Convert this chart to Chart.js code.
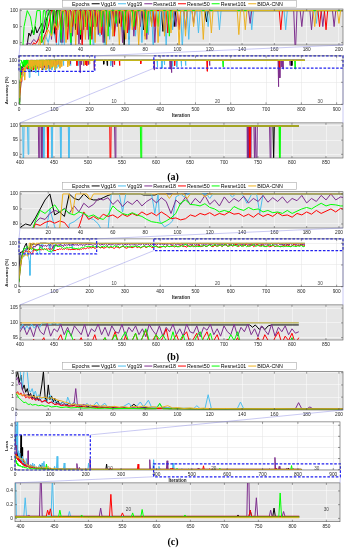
<!DOCTYPE html>
<html><head><meta charset="utf-8">
<script src="https://cdn.jsdelivr.net/npm/chart.js"></script>
<style>
html,body{margin:0;padding:0;background:#fff}
body{width:356px;height:550px;position:relative;overflow:hidden}
canvas{position:absolute;left:0}
.cap{position:absolute;left:0;width:346px;text-align:center;font:bold 10px "Liberation Serif","Times New Roman",serif;line-height:12px;color:#000}
</style></head><body>
<div id="wrap"></div>
<div class="cap" style="top:171px">(a)</div>
<div class="cap" style="top:351px">(b)</div>
<div class="cap" style="top:536px">(c)</div>
<canvas id="ov" width="356" height="550" style="top:0;pointer-events:none;z-index:5"></canvas>
<script>
const seriesNames=['Vgg16','Vgg19','Resnet18','Resnet50','Resnet101','BIDA-CNN'];
const seriesColors=['#000000','#4DBEEE','#7E2F8E','#FF0000','#00FF00','#EDB120'];
const legendNames=['Epochs'].concat(seriesNames);
const legendColors=['#FFFFFF'].concat(seriesColors);
const epochLabels=['10','20','30'];
const epochIters=[262,555,846];
const xTicksTop=[20,40,60,80,100,120,140,160,180,200];
const xTicksTopC=[0,20,40,60,80,100,120,140,160,180,200];
const xTicksMain=[0,100,200,300,400,500,600,700,800,900];
const xTicksZoom=[400,450,500,550,600,650,700,750,800,850];
const lastIter=810;

// ---------- (a) accuracy: start of training + dips below 100 % ----------
const aVgg16Ramp=[[0,6],[2,30],[4,55],[6,72],[8,86],[9,84],[10,88],[11,85],[12,90],[13,86],[14,88],[16,92],[17,86],[19,95],[21,100]];
const aVgg16Dips=[[24,85],[28,80],[31,90],[34,75],[37,88],[40,82],[43,90],[46,84],[49,92],[52,86],[55,80],[58,90],[61,86],[64,92],[67,78],[70,82],[74,90],[79,88],[84,92],[91,87],[98,90],[118,93],[240,91],[250,88],[736,85],[773,88]];
const aVgg19Ramp=[[0,4],[2,18],[4,35],[6,50],[8,62],[10,70],[12,66],[14,78],[16,74],[18,85],[20,80],[22,90],[24,84],[26,75],[28,95],[29,61],[31,100]];
const aVgg19Dips=[[34,78],[38,85],[41,80],[45,88],[48,72],[52,84],[55,65],[58,82],[62,90],[66,86],[70,78],[74,84],[78,80],[82,85],[85,75],[89,84],[93,78],[97,88],[103,76],[107,82],[113,86],[119,90],[126,88],[146,88],[167,88],[186,92],[260,88],[392,85],[405,82],[412,90],[435,86],[447,85],[460,86],[472,88]];
const aResnet18Ramp=[[0,10],[2,30],[4,55],[6,75],[7,80],[9,79],[11,82],[13,80],[15,86],[17,90],[19,100]];
const aResnet18Dips=[[22,82],[25,88],[29,80],[32,90],[35,84],[39,79],[42,88],[45,82],[48,90],[51,85],[54,80],[57,88],[60,84],[63,90],[66,80],[70,88],[73,84],[77,90],[81,82],[86,80],[92,86],[99,90],[105,88],[110,92],[145,92],[173,72],[177,90],[183,88],[190,90],[197,90],[213,78],[265,85],[383,78],[428,80],[432,72],[540,88],[735,40],[739,60],[745,85],[748,80],[768,88]];
const aResnet50Ramp=[[0,4],[2,18],[4,32],[6,52],[8,68],[10,78],[11,80],[12,79],[14,82],[16,80],[18,85],[20,90],[22,100]];
const aResnet50Dips=[[25,80],[28,88],[32,82],[35,90],[38,85],[41,78],[44,88],[47,82],[50,90],[53,85],[57,92],[61,84],[65,90],[69,86],[74,88],[80,84],[86,90],[94,86],[101,88],[164,88],[188,90],[192,88],[270,90],[285,88],[345,92],[441,88],[533,75],[738,82]];
const aResnet101Ramp=[[0,0],[2,30],[3,55],[4,72],[5,90],[6,95],[7,100],[9,96],[10,90],[11,85],[12,92],[13,100]];
const aResnet101Dips=[[16,80],[19,88],[22,85],[25,90],[28,82],[31,88],[34,80],[37,92],[40,85],[43,90],[46,78],[49,88],[53,90],[57,84],[62,92],[67,88],[73,90],[81,86],[88,90],[95,84],[578,85],[782,80]];
const aBidaRamp=[[0,15],[2,38],[4,58],[5,52],[7,66],[9,62],[11,78],[13,72],[15,84],[16,55],[18,82],[20,88],[22,84],[24,92],[26,88],[28,100]];
const aBidaDips=[[31,80],[34,86],[37,78],[40,88],[43,82],[46,90],[49,80],[52,86],[56,78],[60,84],[64,78],[68,82],[72,88],[76,78],[80,82],[84,90],[88,80],[92,84],[96,86],[101,78],[105,84],[110,90],[116,82],[121,86],[138,85],[142,88],[185,90],[200,92]];

// ---------- (b) accuracy ----------
const bVgg16=[[0,20],[3,78],[6,80],[9,79],[12,84],[15,90],[18,96],[21,100],[24,86],[27,88],[30,85],[33,100],[36,97],[39,96],[42,100],[45,97],[48,96],[51,96],[54,97.5],[57,99],[60,100],[77,100],[79,99.3],[86,99.3],[88,100],[205,100],[215,99.3],[738,99.3],[742,98.5],[746,99.3],[752,97.8],[756,98.8],[760,97.7],[765,99],[770,99.3],[810,99.3]];
const bVgg19=[[0,12],[3,40],[6,62],[9,70],[12,68],[15,74],[18,72],[21,90],[24,78],[27,70],[29,60],[31,26],[33,80],[36,81.5],[39,84],[42,87],[45,84],[48,83],[51,80],[54,74],[57,76],[59,100],[64,100],[66,88],[68,100],[84,100],[86,87],[88,100],[89,82],[92,78],[95,80],[97,82],[99,98],[102,100],[104,98],[106,100],[118,100],[120,97],[122,100],[132,100],[134,98],[136,100],[140,100],[143,93.8],[146,100],[149,100],[151,87],[153,100],[398,100],[401,98],[404,99.6],[407,97.6],[410,99],[413,98],[417,99.6],[421,98.2],[425,99.5],[429,98.5],[433,100],[445,99.5],[450,100],[455,99.5],[462,100],[810,100]];
const bResnet18Early=[15,50,68,74,81,84,83,87,89,88,90.4,87,92,88,93.8,91,93,97,96,97.5,93,96,91.6,95,93,96,92,95,97,94,97.5,95,87,96,93,98,92.7,97,94,99,93,96,92,98,94,97,95,98.5,94,97,95,99,94.5,97.5,95,98,94,97,95.5,99,94,97,95,99,96,100,96,98];
const bResnet18Late=[97,95,98.5,96,99,95.5,97.5,96,99.5,94.5,98,96,97,99,95,98,96.5,99.5,95,97.5,96,98.5,95.5,99,96,97.5,95,98.5,96,99.5,95.5,97,98.5,95,99,96.5,97.5,95.5,99,97,
99,96,98.5,95.3,99.5,97,96,99.8,95.5,98,97,99.5,96,98.5,95.5,99,97.5,96,99.5,95.3,98,97,99.6,96,98.5,95.5,99,97,96.5,99.5,95.5,98.5,97,99,96,98,95.3,99.5,97.5,96,99,95.5,98.5,97,99.5,96,98,95.5,99.6,97,96.5,99,95.3,98.5,97.5,99.5,96,98,95.5,99,97,96,99.5,95.5,98.5,97,99.6,96,98,95.3,99,97.5,96,99.5,95.5,98.5,97,99,96,98,96.5,97];
const bResnet50Early=[12,35,55,72,80,79,81,82,80.5,82,81,77,75,78,88,83,85,83,86.5,85,86,84,86.5,85,87,85.5,88,86,87.5,85.5,88,86,83.5,84,82.7,83.5,86,85,87,86,87.5,85.5,87,86,88,86.5,87,85,86.5,84.5,87,85,86.5,85,87.5,85.5,86,84.5,87,86,88,86.5,89,87,88.5,90,88,90.4];
const bResnet50Late=[89,91,88,90,92,89,91,88.5,90,92.5,89,91,90,88,92,90.5,89,91.5,93,90,88.5,91,92,89.5,91,93,90,92,89,91.5,93,90,92,94,91,89.5,92,93.5,91,90,
92,93,91,94.5,92,93,95,91.5,93,92,94,96,92.5,93,91,94.5,93,95,92,94,93,96,92,93.5,95,92,94,97,93,92,95.5,93,94,96.5,92,95,97.5,93,94,96,93,95,98,92.5,94,96,93,95.5,97,93,94.5,96.5,92,95,97,93.5,94,96,92.5,93,94.5,92,93,95,92,93.5,94,92,93,95,93,96,94,92.5,95,97,93,95.5,94,96.5,93,95];
const bResnet101Early=[10,40,60,72,82,89,87,90,92.7,88,90,87,86,88,87,85,86,84,83,86,92,89,87,86,87.5,86,85,83,81.5,81,80.4,82,84,87,94,96,93,92.7,92,93.5,91,90,88,89,88,91.6,90,89,91,89.5,90,88,89,87.5,88,87,89,87,88.5,90,91,90,92,93.8,92,93,92.7,92];
const bResnet101Late=[92,93.5,91,94,92.5,90,93,91.5,94,92,90.5,93,91,94.5,92,93.5,90,92,94,91,93,92,90.5,93.5,92,94,91.5,93,90,92.5,94,91,93,92,94.5,91.5,93,92,90.5,93,
92,93,91.5,94,92,93,92.5,94,93,92,92,94,93,97.5,96,93,92,93.5,94,92,93.5,92,94,93,95,92.5,94,96,93,95,97,93.5,94,96.5,93,95,98,94,93,96,94.5,96,94,93,97,92.5,94,96,92,94,93,95.5,97,93,94,96.5,92.5,94,93,92,93.5,96,94,97,92.5,94,93,92,93.5,92,94,92.5,93,92,94,93,92.5,94,93,95,92,93];
const bBida=[[0,18],[3,45],[6,60],[9,66],[12,72],[15,70],[18,75],[21,74],[24,70],[27,76],[29,100],[33,100],[35,87],[37,100],[44,100],[46,96],[48,100],[93,100],[95,97],[97,100],[104,100],[106,97],[108,100],[115,100],[117,98],[119,100],[810,100]];

// ---------- (c) loss ----------
const cVgg16=[[0,2.6],[1,3.1],[2,2.2],[3,2.8],[4,1.6],[5,2.0],[6,1.4],[7,1.7],[8,1.1],[9,1.3],[10,0.9],[11,1.2],[12,0.8],[13,1.0],[14,0.7],[15,1.2],[16,2.0],[17,3.1],[18,1.0],[19,0.6],[20,2.0],[21,0.8],[22,1.1],[23,0.6],[24,0.9],[25,0.5],[26,0.7],[27,0.4],[29,0.6],[31,0.35],[33,0.5],[35,0.3],[37,0.4],[40,0.22],[43,0.3],[46,0.18],[50,0.25],[54,0.15],[58,0.2],[62,0.12],[66,0.18],[70,0.1],[73,0.42],[76,0.1],[80,0.15],[85,0.08],[90,0.12],[95,0.06],[100,0.08],[110,0.05],[120,0.04],[150,0.03],[200,0.02],[257,0.02],[259,0.5],[261,0.02],[718,0.02],[720,0.05],[722,0.02],[736,0.02],[738,0.12],[740,0.02],[771,0.02],[773,0.15],[775,0.02],[810,0.02]];
const cVgg19=[[0,4.5],[1,3.4],[2,4.2],[3,2.5],[4,1.8],[5,3.2],[6,4.4],[7,3.0],[8,1.6],[9,1.4],[10,1.7],[11,1.2],[12,1.5],[13,1.0],[14,1.2],[15,0.8],[17,1.0],[19,0.6],[21,1.2],[23,0.5],[25,0.7],[27,0.4],[29,0.6],[31,0.4],[32,1.0],[34,0.35],[36,0.6],[38,0.3],[40,0.4],[42,0.25],[44,0.5],[46,0.2],[48,0.3],[50,0.6],[52,0.2],[55,0.5],[57,0.15],[60,0.25],[63,0.12],[66,0.2],[70,0.5],[72,0.15],[75,0.3],[77,0.6],[79,0.2],[82,0.75],[84,0.15],[87,0.2],[89,0.4],[91,0.1],[95,0.15],[100,0.08],[105,0.1],[110,0.06],[112,0.3],[114,0.06],[117,0.05],[119,1.2],[121,0.05],[125,0.06],[130,0.04],[137,0.05],[139,0.6],[141,0.05],[150,0.04],[170,0.03],[200,0.03],[206,0.03],[208,0.6],[210,0.03],[390,0.03],[392,0.9],[394,0.03],[405,0.03],[407,0.3],[409,0.03],[445,0.03],[447,0.6],[449,0.03],[470,0.02],[472,0.1],[474,0.02],[810,0.02]];
const cResnet18=[[0,2.4],[1,2.6],[2,2.0],[3,2.2],[4,1.6],[5,1.3],[6,1.1],[7,1.25],[8,1.0],[9,1.2],[10,0.9],[11,1.0],[12,0.75],[13,0.9],[14,0.7],[15,0.85],[16,0.6],[18,0.7],[20,0.5],[22,0.6],[24,0.4],[26,0.5],[28,0.35],[30,0.45],[32,0.3],[34,0.35],[36,0.5],[37,1.7],[38,0.4],[40,0.3],[42,0.4],[44,0.25],[46,0.35],[48,0.2],[52,0.25],[56,0.15],[60,0.2],[65,0.12],[70,0.15],[75,0.1],[80,0.12],[85,0.08],[90,0.1],[100,0.06],[110,0.05],[130,0.04],[150,0.04],[173,0.04],[175,0.55],[177,0.04],[180,0.03],[182,0.2],[184,0.03],[210,0.03],[212,0.95],[214,0.03],[379,0.03],[381,0.9],[383,0.03],[410,0.03],[412,0.05],[414,0.03],[428,0.03],[430,0.8],[432,0.03],[516,0.03],[518,0.15],[520,0.03],[733,0.03],[735,1.1],[737,0.03],[745,0.03],[747,0.3],[749,0.03],[766,0.03],[768,0.12],[770,0.03],[785,0.03],[787,0.1],[789,0.03],[810,0.03]];
const cResnet50=[[0,1.3],[1,1.45],[2,1.2],[3,1.35],[4,1.1],[5,1.2],[6,0.95],[7,1.05],[8,0.9],[9,1.0],[10,0.8],[11,0.9],[12,0.75],[14,0.85],[16,0.6],[18,0.75],[20,0.5],[22,0.6],[24,0.4],[26,0.45],[28,0.3],[30,0.35],[33,0.25],[36,0.3],[39,0.2],[42,0.22],[45,0.15],[48,0.2],[52,0.12],[56,0.15],[60,0.1],[65,0.12],[70,0.08],[75,0.1],[80,0.06],[90,0.07],[100,0.05],[120,0.04],[150,0.03],[200,0.03],[268,0.03],[270,0.15],[272,0.03],[346,0.03],[348,0.5],[350,0.03],[438,0.03],[440,0.12],[442,0.05],[444,0.14],[446,0.03],[531,0.03],[533,0.35],[535,0.03],[548,0.03],[550,0.08],[552,0.03],[736,0.03],[738,0.12],[740,0.03],[810,0.03]];
const cResnet101=[[0,1.3],[1,1.1],[2,0.9],[3,0.8],[4,0.65],[5,0.55],[6,0.6],[7,0.45],[8,0.4],[9,0.45],[10,0.35],[12,0.4],[14,0.3],[16,0.35],[18,0.25],[20,0.3],[22,0.2],[25,0.25],[28,0.15],[31,0.2],[34,0.12],[38,0.15],[42,0.1],[46,0.12],[50,0.08],[55,0.1],[60,0.06],[70,0.08],[80,0.05],[87,0.05],[89,0.5],[91,0.05],[100,0.04],[120,0.03],[150,0.03],[200,0.02],[456,0.02],[458,0.12],[460,0.02],[488,0.02],[490,0.05],[492,0.02],[563,0.02],[565,0.08],[567,0.02],[577,0.02],[579,0.13],[581,0.02],[640,0.02],[642,0.05],[644,0.02],[780,0.02],[782,0.37],[784,0.02],[810,0.02]];
const cBida=[[0,1.3],[2,1.25],[4,1.15],[6,1.2],[8,1.05],[10,1.1],[12,1.0],[14,1.05],[16,0.95],[18,1.0],[20,0.9],[22,0.95],[24,0.85],[26,0.75],[28,0.7],[30,0.6],[32,0.55],[34,0.4],[36,0.45],[38,0.35],[40,0.4],[42,0.3],[44,0.38],[46,0.28],[48,0.33],[50,0.3],[52,0.25],[55,0.3],[58,0.2],[61,0.25],[64,0.18],[67,0.22],[70,0.15],[73,0.25],[76,0.2],[79,0.28],[82,0.18],[85,0.22],[88,0.15],[91,0.2],[94,0.3],[97,0.12],[100,0.15],[104,0.08],[108,0.12],[112,0.06],[116,0.1],[120,0.05],[130,0.06],[140,0.04],[160,0.05],[180,0.03],[200,0.04],[250,0.03],[300,0.03],[400,0.02],[500,0.01],[810,0.01]];

// ---------- builders ----------
function fromDips(ramp,dips,base,last){
  const pts=ramp.map(p=>({x:p[0],y:p[1]}));
  dips.forEach(d=>{pts.push({x:d[0]-1,y:base},{x:d[0],y:d[1]},{x:d[0]+1,y:base});});
  pts.push({x:last,y:base});
  return pts;
}
function fromPairs(a){return a.map(p=>({x:p[0],y:p[1]}));}
function fromSteps(early,e0,es,late,l0,ls){
  const o=[];early.forEach((v,i)=>o.push({x:e0+i*es,y:v}));late.forEach((v,i)=>o.push({x:l0+i*ls,y:v}));return o;
}
const seriesA=[fromDips(aVgg16Ramp,aVgg16Dips,100,lastIter),fromDips(aVgg19Ramp,aVgg19Dips,100,lastIter),fromDips(aResnet18Ramp,aResnet18Dips,100,lastIter),fromDips(aResnet50Ramp,aResnet50Dips,100,lastIter),fromDips(aResnet101Ramp,aResnet101Dips,100,lastIter),fromDips(aBidaRamp,aBidaDips,100,lastIter)];
const seriesB=[fromPairs(bVgg16),fromPairs(bVgg19),fromSteps(bResnet18Early,0,3,bResnet18Late,205,5),fromSteps(bResnet50Early,0,3,bResnet50Late,205,5),fromSteps(bResnet101Early,0,3,bResnet101Late,205,5),fromPairs(bBida)];
const seriesC=[fromPairs(cVgg16),fromPairs(cVgg19),fromPairs(cResnet18),fromPairs(cResnet50),fromPairs(cResnet101),fromPairs(cBida)];

Chart.defaults.font.family='"Liberation Sans", Arial, sans-serif';
const CFG={};
const GREY='#E6E6E6';

function drawLegend(ctx,top){
  ctx.save();
  const h=7.5,left=62,right=297;
  ctx.fillStyle='#fff';ctx.fillRect(left,top,right-left,h);
  ctx.strokeStyle='#a8a8a8';ctx.lineWidth=0.6;ctx.strokeRect(left+0.3,top+0.3,right-left-0.6,h-0.6);
  ctx.font='5.3px "Liberation Sans", Arial, sans-serif';ctx.textBaseline='middle';ctx.textAlign='left';
  let x=left+1;const cy=top+h/2;
  legendNames.forEach((n,i)=>{
    ctx.strokeStyle=legendColors[i];ctx.lineWidth=1;ctx.beginPath();ctx.moveTo(x,cy);ctx.lineTo(x+8,cy);ctx.stroke();
    x+=9;ctx.fillStyle='#000';ctx.fillText(n,x,cy+0.3);x+=ctx.measureText(n).width+2;
  });
  ctx.restore();
}

const deco={
  id:'deco',
  beforeDraw(chart){
    const c=CFG[chart.canvas.id],a=chart.chartArea,ctx=chart.ctx;
    if(c.bg){ctx.save();ctx.fillStyle=c.bg;ctx.fillRect(a.left,a.top,a.right-a.left,a.bottom-a.top);ctx.restore();}
  },
  afterDatasetsDraw(chart){
    const c=CFG[chart.canvas.id],ctx=chart.ctx,xs=chart.scales.x,ys=chart.scales.y;
    if(c.epochY!=null){
      ctx.save();ctx.font='4.6px "Liberation Sans", Arial, sans-serif';ctx.fillStyle='#444';ctx.textAlign='left';ctx.textBaseline='middle';
      epochLabels.forEach((t,i)=>ctx.fillText(t,xs.getPixelForValue(epochIters[i]),ys.getPixelForValue(c.epochY)));
      ctx.restore();
    }
    if(c.rects){
      ctx.save();ctx.strokeStyle='#2020F0';ctx.lineWidth=1.2;ctx.setLineDash([2.6,1.6]);
      c.rects.forEach(r=>{const x0=xs.getPixelForValue(r[0]),x1=xs.getPixelForValue(r[1]),y0=ys.getPixelForValue(r[2]),y1=ys.getPixelForValue(r[3]);ctx.strokeRect(x0,y1,x1-x0,y0-y1);});
      ctx.restore();
    }
  },
  afterDraw(chart){
    const c=CFG[chart.canvas.id],ctx=chart.ctx,a=chart.chartArea,xs=chart.scales.x,ys=chart.scales.y;
    ctx.save();ctx.strokeStyle='#555';ctx.lineWidth=0.6;ctx.setLineDash([]);
    ctx.strokeRect(a.left,a.top,a.right-a.left,a.bottom-a.top);
    ctx.beginPath();
    xs.ticks.forEach(t=>{const p=xs.getPixelForValue(t.value);ctx.moveTo(p,a.bottom);ctx.lineTo(p,a.bottom-2);ctx.moveTo(p,a.top);ctx.lineTo(p,a.top+2);});
    ys.ticks.forEach(t=>{const p=ys.getPixelForValue(t.value);ctx.moveTo(a.left,p);ctx.lineTo(a.left+2,p);ctx.moveTo(a.right,p);ctx.lineTo(a.right-2,p);});
    ctx.stroke();ctx.restore();
    if(c.legendTop!=null) drawLegend(ctx,c.legendTop);
  }
};

function makeChart(s){
  const cv=document.createElement('canvas');
  cv.id=s.id;
  const pad=s.T-s.ct;
  const inner=pad+(s.B-s.T)+s.xh;
  const h=Math.ceil(inner);
  cv.width=356;cv.height=h;cv.style.top=s.ct+'px';cv.style.width='356px';cv.style.height=h+'px';
  document.getElementById('wrap').appendChild(cv);
  CFG[s.id]=s;
  const gridCol=s.bg?'rgba(255,255,255,0.95)':'#E2E2E2';
  const ch=new Chart(cv,{type:'line',
    data:{datasets:s.series.map((pts,i)=>({label:seriesNames[i],data:pts.map(p=>({x:p.x,y:p.y})),borderColor:seriesColors[i],backgroundColor:seriesColors[i],borderWidth:1,pointRadius:0,pointHoverRadius:0,tension:0,fill:false,order:5-i}))},
    options:{responsive:false,animation:false,devicePixelRatio:1,events:[],
      layout:{padding:{left:0,right:356-s.R,top:pad,bottom:h-inner}},
      plugins:{legend:{display:false},tooltip:{enabled:false},title:{display:false}},
      scales:{
        x:{type:'linear',min:s.x[0],max:s.x[1],
          afterBuildTicks:sc=>{sc.ticks=s.xt.map(v=>({value:v}));},
          afterFit:sc=>{sc.height=s.xh;},
          ticks:{font:{size:4.8},color:'#262626',padding:2,maxRotation:0,minRotation:0,autoSkip:false,callback:v=>String(v)},
          grid:{color:gridCol,lineWidth:0.5,drawTicks:false},border:{display:false},
          title:s.xTitle?{display:true,text:s.xTitle,font:{size:4.6,weight:'bold'},color:'#262626',padding:{top:0,bottom:1}}:{display:false}},
        y:{type:'linear',min:s.y[0],max:s.y[1],
          afterBuildTicks:sc=>{sc.ticks=s.yt.map(v=>({value:v}));},
          afterFit:sc=>{sc.width=s.L;},
          ticks:{font:{size:4.8},color:'#262626',padding:2,autoSkip:false,callback:v=>String(v)},
          grid:{color:gridCol,lineWidth:0.5,drawTicks:false},border:{display:false},
          title:s.yTitle?{display:true,text:s.yTitle,align:s.yAlign||'center',font:{size:4.4,weight:'bold'},color:'#262626',padding:{top:4,bottom:0}}:{display:false}}
      }},
    plugins:[deco]});
  return {ch:ch,s:s};
}

const A1=makeChart({id:'a1',series:seriesA,ct:0,T:9,B:45,xh:9,L:20,R:343,x:[2.5,202.5],xt:xTicksTop,y:[78.5,101],yt:[80,90,100],bg:GREY,legendTop:0});
const A2=makeChart({id:'a2',series:seriesA,ct:51,T:54.8,B:104.3,xh:15.5,L:19,R:343,x:[0,918],xt:xTicksMain,y:[0,110],yt:[0,50,100],xTitle:'Iteration',yTitle:'Accuracy (%)',yAlign:'start',rects:[[0,215,75,110],[382,918,82,110]],epochY:6.5});
const A3=makeChart({id:'a3',series:seriesA,ct:118,T:121.7,B:158,xh:9,L:20,R:343,x:[400,875],xt:xTicksZoom,y:[88.7,101.1],yt:[90,95,100],bg:GREY});
const B1=makeChart({id:'b1',series:seriesB,ct:181,T:191.7,B:228,xh:9,L:20,R:343,x:[2.5,202.5],xt:xTicksTop,y:[77.3,101.5],yt:[80,90,100],bg:GREY,legendTop:1.2});
const B2=makeChart({id:'b2',series:seriesB,ct:234,T:237.2,B:286.7,xh:15,L:19,R:343,x:[0,918],xt:xTicksMain,y:[0,110],yt:[0,50,100],xTitle:'Iteration',yTitle:'Accuracy (%)',yAlign:'start',rects:[[0,220,75.5,110],[382,918,83,110]],epochY:6.5});
const B3=makeChart({id:'b3',series:seriesB,ct:300,T:303.3,B:340,xh:9,L:20,R:343,x:[400,875],xt:xTicksZoom,y:[94.2,106.1],yt:[95,100,105],bg:GREY});
const C1=makeChart({id:'c1',series:seriesC,ct:361,T:371.7,B:410,xh:9,L:16,R:343,x:[0,202.5],xt:xTicksTopC,y:[-0.05,3.08],yt:[0,1,2,3],bg:GREY,legendTop:1.3});
const C2=makeChart({id:'c2',series:seriesC,ct:417,T:420,B:470,xh:14.5,L:15,R:340,x:[0,919],xt:xTicksMain,y:[-0.03,4.3],yt:[0,1,2,3,4],xTitle:'Iteration',yTitle:'Loss',rects:[[0,213,-0.03,3.13],[392,920,-0.64,0.52]],epochY:0.12});
const C3=makeChart({id:'c3',series:seriesC,ct:478,T:481.7,B:521.7,xh:9,L:15,R:340,x:[392,870],xt:xTicksZoom,y:[-0.048,0.517],yt:[0,0.2,0.4],bg:GREY,epochY:0.12});

const panels=[[A1,A2,A3],[B1,B2,B3],[C1,C2,C3]];
function px(m,xv,yv){return [m.ch.scales.x.getPixelForValue(xv),m.s.ct+m.ch.scales.y.getPixelForValue(yv)];}
function drawConnectors(){
  const ctx=document.getElementById('ov').getContext('2d');
  ctx.clearRect(0,0,356,550);
  ctx.strokeStyle='rgba(130,130,225,0.55)';ctx.lineWidth=0.8;
  const line=(p,q)=>{ctx.beginPath();ctx.moveTo(p[0],p[1]);ctx.lineTo(q[0],q[1]);ctx.stroke();};
  panels.forEach(([t,m,b])=>{
    const r1=m.s.rects[0],r2=m.s.rects[1],ta=t.ch.chartArea,ba=b.ch.chartArea;
    line(px(m,r1[0],r1[3]),[ta.left,t.s.ct+ta.bottom]);
    line(px(m,r1[1],r1[3]),[ta.right,t.s.ct+ta.bottom]);
    line(px(m,r2[0],r2[2]),[ba.left,b.s.ct+ba.top]);
    line(px(m,r2[1],r2[2]),[ba.right,b.s.ct+ba.top]);
  });
}
drawConnectors();
setTimeout(drawConnectors,50);
</script></body></html>
